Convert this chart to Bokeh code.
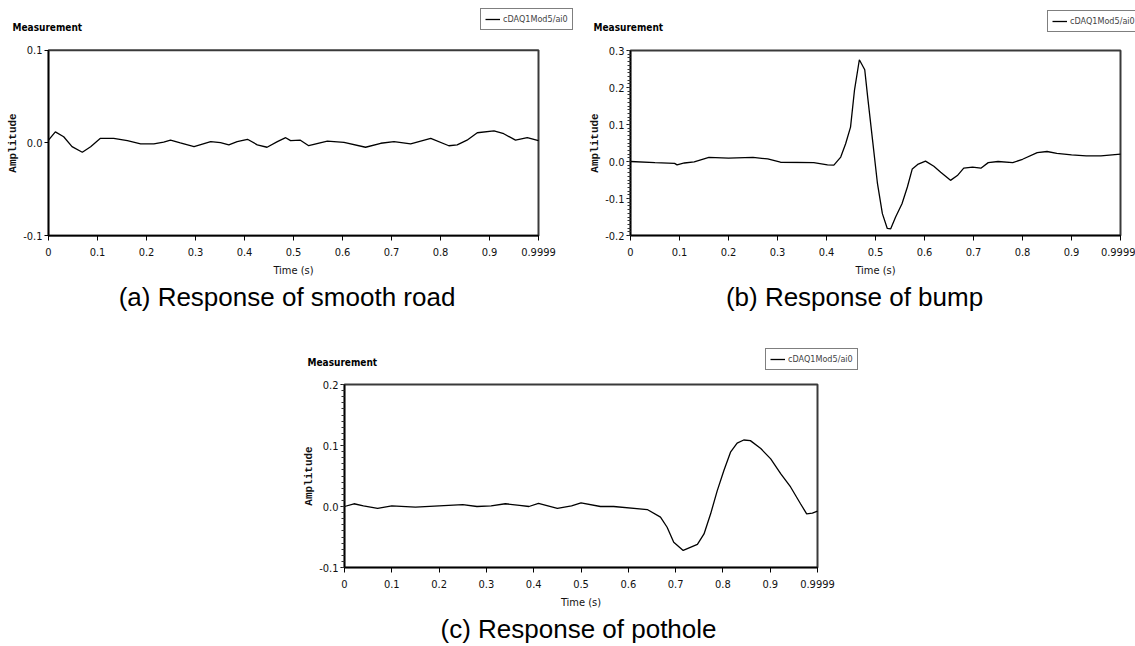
import numpy as np
from bokeh.plotting import figure
from bokeh.models import (Range1d, FixedTicker, Legend, LegendItem, Title, Spacer, Label,
                          BoxAnnotation)
from bokeh.layouts import column, row
from bokeh.embed import file_html
from bokeh.resources import INLINE

# ---------------- data ----------------
x_ticks = [0, 0.1, 0.2, 0.3, 0.4, 0.5, 0.6, 0.7, 0.8, 0.9, 0.9999]
x_tick_labels = ["0", "0.1", "0.2", "0.3", "0.4", "0.5", "0.6", "0.7", "0.8", "0.9", "0.9999"]

smooth_t = [0, 0.014, 0.031, 0.048, 0.069, 0.086, 0.106, 0.133, 0.161, 0.188, 0.215, 0.235,
            0.249, 0.269, 0.297, 0.331, 0.351, 0.368, 0.385, 0.406, 0.426, 0.446, 0.467,
            0.484, 0.494, 0.514, 0.531, 0.569, 0.603, 0.647, 0.678, 0.705, 0.739, 0.780,
            0.817, 0.834, 0.854, 0.875, 0.909, 0.929, 0.953, 0.977, 0.9999]
smooth_y = [0.003, 0.012, 0.0067, -0.004, -0.010, -0.004, 0.005, 0.005, 0.0025, -0.001,
            -0.001, 0.001, 0.003, 0.0, -0.004, 0.0014, 0.0003, -0.002, 0.0014, 0.004, -0.002,
            -0.0046, 0.0014, 0.0057, 0.0025, 0.003, -0.0029, 0.002, 0.0007, -0.0046, -0.0003,
            0.0014, -0.001, 0.005, -0.003, -0.002, 0.003, 0.011, 0.013, 0.010, 0.003, 0.0057,
            0.0025]

bump_t = [0, 0.05, 0.09, 0.095, 0.11, 0.13, 0.16, 0.2, 0.25, 0.28, 0.306, 0.374, 0.402,
          0.415, 0.429, 0.439, 0.449, 0.457, 0.467, 0.478, 0.484, 0.494, 0.504, 0.514, 0.524,
          0.531, 0.541, 0.554, 0.565, 0.575, 0.586, 0.602, 0.619, 0.633, 0.653, 0.667, 0.680,
          0.698, 0.715, 0.73, 0.75, 0.78, 0.80, 0.83, 0.85, 0.87, 0.90, 0.93, 0.96, 0.9999]
bump_y = [0.0, -0.003, -0.005, -0.009, -0.004, -0.001, 0.011, 0.009, 0.011, 0.007, -0.002,
          -0.003, -0.009, -0.010, 0.012, 0.048, 0.093, 0.192, 0.275, 0.248, 0.174, 0.057,
          -0.060, -0.141, -0.181, -0.182, -0.150, -0.114, -0.069, -0.020, -0.008, 0.001,
          -0.013, -0.029, -0.051, -0.038, -0.018, -0.015, -0.018, -0.003, 0.0, -0.003, 0.006,
          0.024, 0.027, 0.022, 0.018, 0.015, 0.015, 0.020]

pothole_t = [0, 0.02, 0.04, 0.07, 0.10, 0.15, 0.2, 0.25, 0.28, 0.31, 0.34, 0.37, 0.39, 0.41,
             0.45, 0.48, 0.50, 0.541, 0.569, 0.640, 0.668, 0.682, 0.696, 0.716, 0.731, 0.746,
             0.760, 0.774, 0.788, 0.802, 0.816, 0.830, 0.844, 0.858, 0.880, 0.901, 0.922,
             0.943, 0.964, 0.977, 0.989, 0.9999]
pothole_y = [0.0, 0.0045, 0.001, -0.003, 0.001, -0.001, 0.001, 0.003, 0.0, 0.001, 0.0045,
             0.002, 0.0, 0.005, -0.003, 0.001, 0.006, 0.0, 0.0, -0.005, -0.0175, -0.034,
             -0.0585, -0.072, -0.067, -0.062, -0.045, -0.012, 0.026, 0.059, 0.089, 0.104,
             0.109, 0.108, 0.095, 0.078, 0.054, 0.032, 0.0045, -0.012, -0.011, -0.0077]

y_ticks_a = [-0.1, 0.0, 0.1]
y_labels_a = ["-0.1", "0.0", "0.1"]
y_ticks_b = [-0.2, -0.1, 0.0, 0.1, 0.2, 0.3]
y_labels_b = ["-0.2", "-0.1", "0.0", "0.1", "0.2", "0.3"]
y_ticks_c = [-0.1, 0.0, 0.1, 0.2]
y_labels_c = ["-0.1", "0.0", "0.1", "0.2"]

series_name = "cDAQ1Mod5/ai0"
chart_title = "Measurement"
captions = ["(a) Response of smooth road", "(b) Response of bump", "(c) Response of pothole"]

TICK_FONT = "DejaVu Sans Condensed"
XMAX = 0.9999
BELOW_EXT = 44   # px of the drawing frame kept below the axes box for tick labels


def make_panel(t, y, yticks, ylabels, caption, width, height,
               box_l, box_w, box_t, box_h, minor, cap_offset,
               title_px, leg_px):
    """box_*: pixel geometry of the axes box inside the figure; the drawing
    frame spans the figure so that heading, legend and axis texts that lie
    outside the box are not clipped."""
    ymin, ymax = yticks[0], yticks[-1]
    sx = XMAX / box_w
    sy = (ymax - ymin) / box_h
    x0 = -box_l * sx
    x1 = XMAX + (width - box_l - box_w) * sx
    y0 = ymin - BELOW_EXT * sy
    y1 = ymax + box_t * sy
    bb = height - box_t - box_h - BELOW_EXT

    p = figure(width=width, height=height, x_range=Range1d(x0, x1),
               y_range=Range1d(y0, y1), output_backend="svg", toolbar_location=None,
               min_border_left=0, min_border_right=0, min_border_top=0,
               min_border_bottom=bb, background_fill_color="white",
               border_fill_color="white")
    p.grid.visible = False
    p.outline_line_color = None

    # the box around the plotting area (top and right edges)
    p.add_layout(BoxAnnotation(left=0, right=XMAX, bottom=ymin, top=ymax,
                               fill_alpha=0, line_color="#3a3a3a", line_alpha=1.0,
                               line_width=2, level="underlay"))

    r = p.line(t, y, line_color="black", line_width=1.3)

    p.xaxis.ticker = FixedTicker(ticks=x_ticks)
    p.xaxis.major_label_overrides = {v: s for v, s in zip(x_ticks, x_tick_labels)}
    p.xaxis.bounds = (0, XMAX)
    p.xaxis.fixed_location = ymin
    yminor = list(np.round(np.arange(ymin, ymax + 1e-9, 0.01), 3)) if minor else []
    p.yaxis.ticker = FixedTicker(ticks=yticks, minor_ticks=yminor)
    p.yaxis.major_label_overrides = {v: s for v, s in zip(yticks, ylabels)}
    p.yaxis.bounds = (ymin, ymax)
    p.yaxis.fixed_location = 0

    for ax in (p.xaxis[0], p.yaxis[0]):
        ax.axis_line_color = "black"
        ax.axis_line_width = 1.5
        ax.major_tick_in = 0
        ax.major_tick_out = 5
        ax.major_tick_line_color = "black"
        ax.minor_tick_in = 0
        ax.minor_tick_out = 3
        ax.minor_tick_line_color = "#333333"
        ax.major_label_text_font = TICK_FONT
        ax.major_label_text_font_size = "11px"
        ax.major_label_text_color = "#111111"
        ax.axis_label_text_font_style = "normal"
        ax.axis_label_text_color = "#111111"
    p.yaxis.major_tick_out = 4
    p.xaxis.minor_tick_out = 0
    p.xaxis.major_label_standoff = 7
    p.yaxis.major_label_standoff = 2
    p.xaxis.axis_label = "Time (s)"
    p.xaxis.axis_label_text_font = TICK_FONT
    p.xaxis.axis_label_text_font_size = "11px"
    p.xaxis.axis_label_standoff = 5
    p.yaxis.axis_label = "Amplitude"
    p.yaxis.axis_label_text_font = "Liberation Mono"
    p.yaxis.axis_label_text_font_size = "11px"
    p.yaxis.axis_label_text_font_style = "bold"
    p.yaxis.axis_label_standoff = 1

    p.add_layout(Title(text=caption, align="center", offset=cap_offset,
                       text_font="Liberation Sans", text_font_size="26px",
                       text_font_style="normal", text_color="black", standoff=0), "below")

    # "Measurement" heading: title_px = (dx, dy) in px from the box's top-left corner
    p.add_layout(Label(x=title_px[0] * sx, y=ymax + title_px[1] * sy, text=chart_title,
                       text_font=TICK_FONT, text_font_size="10px", text_font_style="bold",
                       text_baseline="middle", text_align="left", text_color="black"))

    # legend: leg_px = (x, y) of its bottom-left corner, px from the box's bottom-left
    leg = Legend(items=[LegendItem(label=series_name, renderers=[r])],
                 location=(leg_px[0], leg_px[1] + BELOW_EXT), orientation="horizontal",
                 border_line_color="black", border_line_width=1.5,
                 background_fill_color="white", background_fill_alpha=1.0,
                 label_text_font=TICK_FONT, label_text_font_size="9px",
                 label_height=12, glyph_width=15, glyph_height=12, padding=4, margin=0,
                 label_standoff=3, spacing=0)
    p.add_layout(leg, "center")
    return p


# panel (a): figure at page x 0, axes box page x 48..538, y 50..237
pa = make_panel(smooth_t, smooth_y, y_ticks_a, y_labels_a, captions[0],
                573, 318, 48, 490, 50, 187, False, -2, (-36, 23), (480, 205))
# panel (b): figure at page x 573, axes box page x 630..1120, y 50..235
pb = make_panel(bump_t, bump_y, y_ticks_b, y_labels_b, captions[1],
                562, 318, 57, 490, 50, 185, True, 14, (-37, 23), (474, 203))
# panel (c): figure at page x 288, y 318; axes box page x 344..817, y 384..567
pc = make_panel(pothole_t, pothole_y, y_ticks_c, y_labels_c, captions[2],
                580, 328, 56, 473, 66, 183, True, -2, (-37, 22), (477, 197))

layout = column(row(pa, pb), row(Spacer(width=288, height=328), pc))

open("out.html", "w").write(file_html(layout, INLINE))
